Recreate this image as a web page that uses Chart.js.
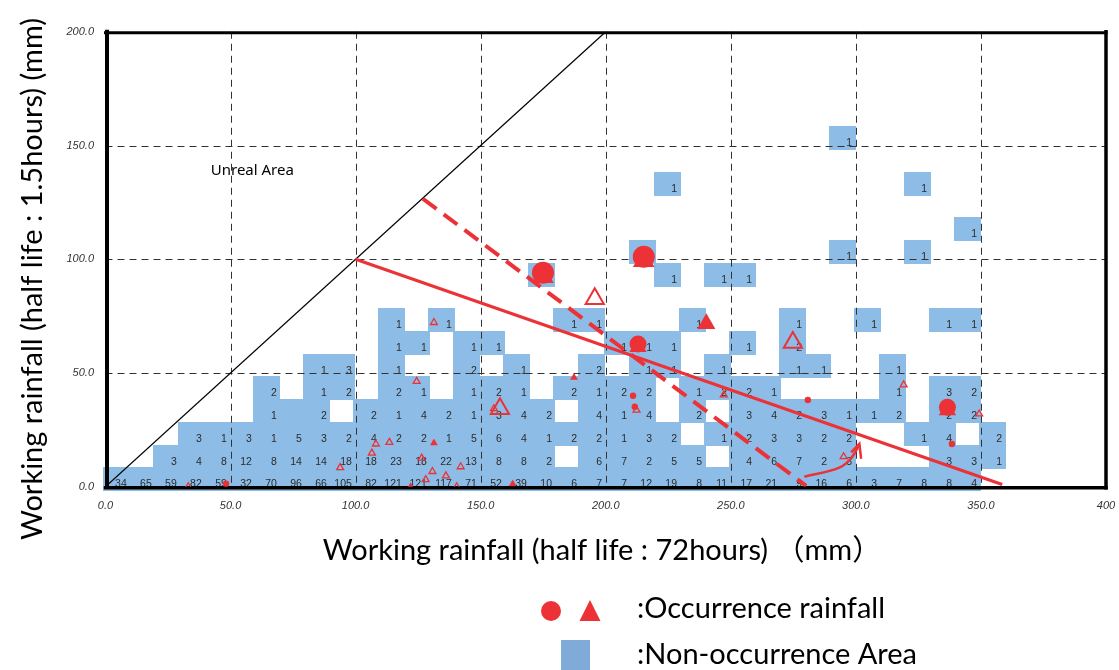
<!DOCTYPE html>
<html>
<head>
<meta charset="utf-8">
<script src="https://cdn.jsdelivr.net/npm/chart.js@4.4.1/dist/chart.umd.min.js"></script>
<style>
html,body{margin:0;padding:0;background:#fff;}
</style>
</head>
<body>
<canvas id="rain" width="1119" height="670"></canvas>
<script>
const _ = null;

// x bins (working rainfall, half life 72h), 10 mm each
const xBins = [0,10,20,30,40,50,60,70,80,90,100,110,120,130,140,150,160,170,180,190,200,210,220,230,240,250,260,270,280,290,300,310,320,330,340,350];

// non-occurrence counts per y bin (half life 1.5h), one value per x bin
// (0 = shaded cell whose count is not printed)
const countsY0   = [34,65,59,82,59,32,70,96,66,105, 82,121,121,117,71,52,39,10,6,7, 7,12,19,8,11,17,21,9,16,6, 3,7,8,8,4,_];
const countsY10  = [_,_,3,4,8,12,8,14,14,18, 18,23,18,22,13,8,8,2,_,6, 7,2,5,5,_,4,6,7,2,3, _,_,_,3,3,1];
const countsY20  = [_,_,_,3,1,3,1,5,3,2, 4,2,2,1,5,6,4,1,2,2, 1,3,2,_,1,2,3,3,2,2, _,_,1,4,_,2];
const countsY30  = [_,_,_,_,_,_,1,0,2,_, 2,1,4,2,1,3,4,2,_,4, 1,4,_,2,_,3,4,2,3,1, 1,2,_,2,2,_];
const countsY40  = [_,_,_,_,_,_,2,_,1,2, _,2,1,_,1,2,1,_,2,1, 2,2,_,1,2,2,1,_,_,_, _,1,_,3,2,_];
const countsY50  = [_,_,_,_,_,_,_,_,1,3, _,1,_,_,2,_,1,_,_,2, _,1,1,_,1,_,_,1,1,_, _,1,_,_,_,_];
const countsY60  = [_,_,_,_,_,_,_,_,_,_, _,1,1,_,1,1,_,_,_,_, 1,1,1,_,_,1,_,2,_,_, _,_,_,_,_,_];
const countsY70  = [_,_,_,_,_,_,_,_,_,_, _,1,_,1,_,_,_,_,1,1, _,_,_,1,_,_,_,1,_,_, 1,_,_,1,1,_];
const countsY90  = [_,_,_,_,_,_,_,_,_,_, _,_,_,_,_,_,_,1,_,_, _,_,1,_,1,1,_,_,_,_, _,_,_,_,_,_];
const countsY100 = [_,_,_,_,_,_,_,_,_,_, _,_,_,_,_,_,_,_,_,_, _,1,_,_,_,_,_,_,_,1, _,_,1,_,_,_];
const countsY110 = [_,_,_,_,_,_,_,_,_,_, _,_,_,_,_,_,_,_,_,_, _,_,_,_,_,_,_,_,_,_, _,_,_,_,1,_];
const countsY130 = [_,_,_,_,_,_,_,_,_,_, _,_,_,_,_,_,_,_,_,_, _,_,1,_,_,_,_,_,_,_, _,_,1,_,_,_];
const countsY150 = [_,_,_,_,_,_,_,_,_,_, _,_,_,_,_,_,_,_,_,_, _,_,_,_,_,_,_,_,_,1, _,_,_,_,_,_];

const rowStarts = [0, 10, 20, 30, 40, 50, 60, 70, 90, 100, 110, 130, 150];
const cellRows = [countsY0, countsY10, countsY20, countsY30, countsY40, countsY50, countsY60, countsY70,
                  countsY90, countsY100, countsY110, countsY130, countsY150];

// occurrence rainfall
const bigCircleX = [174.9, 215.2, 212.9, 336.6];
const bigCircleY = [94.1, 101.1, 62.7, 34.9];
const underTriX = [174.9, 215.2, 212.9, 336.6];
const underTriY = [92.3, 99.3, 61.4, 33.6];
const smallCircleX = [48.2, 210.9, 211.6, 280.8, 338.4];
const smallCircleY = [1.3, 40.0, 35.2, 38.1, 18.8];
const openTriX = [33.1, 93.8, 106.5, 108.1, 113.5, 124.4, 126.4, 128.0, 130.7, 131.3, 136.1, 140.4, 142.0, 155.3, 212.3, 247.2, 295.1, 319.1, 349.3];
const openTriY = [0, 8.4, 14.8, 18.8, 19.5, 46.3, 12.6, 3.1, 6.7, 72.2, 4.8, 0, 8.8, 34.3, 33.7, 40.4, 13.2, 44.8, 32.0];
const filledTriX = [131.3, 122.0, 162.8, 187.3];
const filledTriY = [19.2, 0, 1.2, 48.0];
const bigOpenTriX = [195.6, 157.7, 274.8];
const bigOpenTriY = [82.6, 34.3, 63.4];
const bigFilledTriX = [240.2];
const bigFilledTriY = [71.6];

// lines
const unrealX = [0, 200], unrealY = [0, 200];
const solidX = [100, 358.5], solidY = [100, 1];
const dashedX = [126.9, 280.1], dashedY = [126.6, 0.4];
const curveX = [279.4, 293.4, 298.2, 301.4], curveY = [4.4, 8.4, 12.7, 18.5];
const headX = [298.1, 301.4, 302.1], headY = [15.1, 18.9, 12.3];

const unrealLabel = {x: 58.7, y: 139.1, text: 'Unreal Area'};
const xTitle = 'Working rainfall (half life : 72hours) （mm）';
const yTitle = 'Working rainfall (half life : 1.5hours) (mm)';
const legendOccurrence = ':Occurrence rainfall';
const legendNon = ':Non-occurrence Area';

const RED = '#EC3237';
const CELL_BLUE = '#8DBDE6';

const pts = (xs, ys) => xs.map((x, i) => ({x: x, y: ys[i]}));

const cellPoints = [];
cellRows.forEach((row, r) => {
  row.forEach((n, k) => {
    if (n !== null) cellPoints.push({x: xBins[k] + 4.5, y: rowStarts[r] + 3.2, n: n});
  });
});

const cellImg = document.createElement('canvas');
cellImg.width = 27; cellImg.height = 24;
const cg = cellImg.getContext('2d');
cg.fillStyle = CELL_BLUE;
cg.fillRect(0, 0, 27, 24);

const FONT_UI = '"Liberation Sans", Arial, sans-serif';
const FONT_TITLE = 'Lato, "Noto Sans", "Noto Sans CJK JP", sans-serif';

// counts, dashed grid and frame go right above the cells
const cellLayer = {
  id: 'cellLayer',
  afterDatasetDraw(chart, args) {
    if (args.index !== 0) return;
    const ctx = chart.ctx;
    const {left, right, top, bottom} = chart.chartArea;
    const xs = chart.scales.x, ys = chart.scales.y;
    ctx.save();
    ctx.font = '10.5px ' + FONT_UI;
    ctx.fillStyle = '#2b2b2b';
    ctx.textAlign = 'right';
    ctx.textBaseline = 'middle';
    args.meta.data.forEach((p, i) => {
      const n = cellPoints[i].n;
      if (n > 0) ctx.fillText(String(n), p.x + 10, p.y + 5);
    });

    ctx.strokeStyle = '#333';
    ctx.lineWidth = 1;
    ctx.setLineDash([7, 5]);
    xs.ticks.forEach(t => {
      if (t.value <= xs.min || t.value >= xs.max) return;
      const px = Math.round(xs.getPixelForValue(t.value)) + 0.5;
      ctx.beginPath(); ctx.moveTo(px, top); ctx.lineTo(px, bottom); ctx.stroke();
    });
    ys.ticks.forEach(t => {
      if (t.value <= ys.min || t.value >= ys.max) return;
      const py = Math.round(ys.getPixelForValue(t.value)) + 0.5;
      ctx.beginPath(); ctx.moveTo(left, py); ctx.lineTo(right, py); ctx.stroke();
    });

    ctx.setLineDash([]);
    ctx.strokeStyle = '#000';
    ctx.lineCap = 'square';
    ctx.lineWidth = 4;
    ctx.beginPath(); ctx.moveTo(left + 1.5, top); ctx.lineTo(left + 1.5, bottom); ctx.stroke();
    ctx.lineWidth = 3.5;
    ctx.beginPath(); ctx.moveTo(right, top); ctx.lineTo(right, bottom + 1); ctx.stroke();
    ctx.beginPath(); ctx.moveTo(left, bottom + 1); ctx.lineTo(right, bottom + 1); ctx.stroke();
    ctx.lineWidth = 3;
    ctx.beginPath(); ctx.moveTo(left, top + 1); ctx.lineTo(right, top + 1); ctx.stroke();

    ctx.font = '15px "Noto Sans", sans-serif';
    ctx.fillStyle = '#000';
    ctx.textAlign = 'center';
    ctx.fillText(unrealLabel.text, xs.getPixelForValue(unrealLabel.x), ys.getPixelForValue(unrealLabel.y));
    ctx.restore();
  }
};

const titlesAndLegend = {
  id: 'titlesAndLegend',
  afterDraw(chart) {
    const ctx = chart.ctx;
    ctx.save();
    ctx.fillStyle = '#000';
    ctx.textAlign = 'center';
    ctx.textBaseline = 'middle';
    ctx.font = '29px ' + FONT_TITLE;
    ctx.fillText(xTitle, 602, 551);
    ctx.save();
    ctx.translate(33, 279);
    ctx.rotate(-Math.PI / 2);
    ctx.fillText(yTitle, 0, 0);
    ctx.restore();

    // legend
    ctx.fillStyle = RED;
    ctx.beginPath(); ctx.arc(551, 611, 10, 0, Math.PI * 2); ctx.fill();
    ctx.beginPath(); ctx.moveTo(590, 600); ctx.lineTo(600.5, 621); ctx.lineTo(579.5, 621); ctx.closePath(); ctx.fill();
    ctx.fillStyle = '#80AAD8';
    ctx.fillRect(561, 640, 29, 32);
    ctx.fillStyle = '#000';
    ctx.textAlign = 'left';
    ctx.fillText(legendOccurrence, 637, 609);
    ctx.fillText(legendNon, 637, 655);
    ctx.restore();
  }
};

const markerSet = (xs, ys, style, radius, filled, order, border) => ({
  data: pts(xs, ys),
  pointStyle: style,
  pointRadius: radius,
  pointBackgroundColor: filled ? RED : 'rgba(0,0,0,0)',
  pointBorderColor: RED,
  pointBorderWidth: filled ? 0 : border,
  order: order
});

const lineSet = (xs, ys, color, width, dash, tension, order) => ({
  data: pts(xs, ys),
  showLine: true,
  borderColor: color,
  borderWidth: width,
  borderDash: dash,
  tension: tension,
  pointRadius: 0,
  order: order
});

const noEdgePadding = s => {
  s.paddingLeft = 0; s.paddingRight = 0; s.paddingTop = 0; s.paddingBottom = 0;
};

new Chart(document.getElementById('rain'), {
  type: 'scatter',
  data: {
    datasets: [
      {data: cellPoints, pointStyle: cellImg, pointRadius: 12, order: 20, clip: false},
      lineSet(unrealX, unrealY, '#000', 1.2, [], 0, 15),
      lineSet(solidX, solidY, RED, 3, [], 0, 6),
      lineSet(dashedX, dashedY, RED, 4, [17, 9], 0, 6),
      lineSet(curveX, curveY, RED, 2.5, [], 0.4, 6),
      lineSet(headX, headY, RED, 2.5, [], 0, 6),
      markerSet(openTriX, openTriY, 'triangle', 4, false, 5, 1.3),
      markerSet(filledTriX, filledTriY, 'triangle', 4.5, true, 5, 0),
      markerSet(smallCircleX, smallCircleY, 'circle', 3.2, true, 5, 0),
      markerSet(bigOpenTriX, bigOpenTriY, 'triangle', 10.5, false, 4, 2),
      markerSet(bigFilledTriX, bigFilledTriY, 'triangle', 10.5, true, 4, 0),
      markerSet(underTriX, underTriY, 'triangle', [12.5, 12.5, 10, 10], true, 4, 0),
      markerSet(bigCircleX, bigCircleY, 'circle', [11, 11, 8.5, 8.5], true, 3, 0)
    ]
  },
  options: {
    responsive: false,
    animation: false,
    events: [],
    layout: {padding: {top: 31.75, right: 12, left: 0, bottom: 0}},
    plugins: {legend: {display: false}, tooltip: {enabled: false}},
    scales: {
      x: {
        type: 'linear', min: 0, max: 400,
        afterFit: s => { s.height = 670 - 486.75; noEdgePadding(s); },
        grid: {display: false, drawTicks: false},
        border: {display: false},
        ticks: {
          stepSize: 50, padding: 13, color: '#333',
          font: {family: FONT_UI, size: 11, style: 'italic'},
          callback: v => v === 400 ? '400' : v.toFixed(1)
        }
      },
      y: {
        type: 'linear', min: 0, max: 200,
        afterFit: s => { s.width = 105.5; noEdgePadding(s); },
        grid: {display: false, drawTicks: false},
        border: {display: false},
        ticks: {
          stepSize: 50, padding: 11.5, color: '#333',
          font: {family: FONT_UI, size: 11, style: 'italic'},
          callback: v => v.toFixed(1)
        }
      }
    }
  },
  plugins: [cellLayer, titlesAndLegend]
});
</script>
</body>
</html>
